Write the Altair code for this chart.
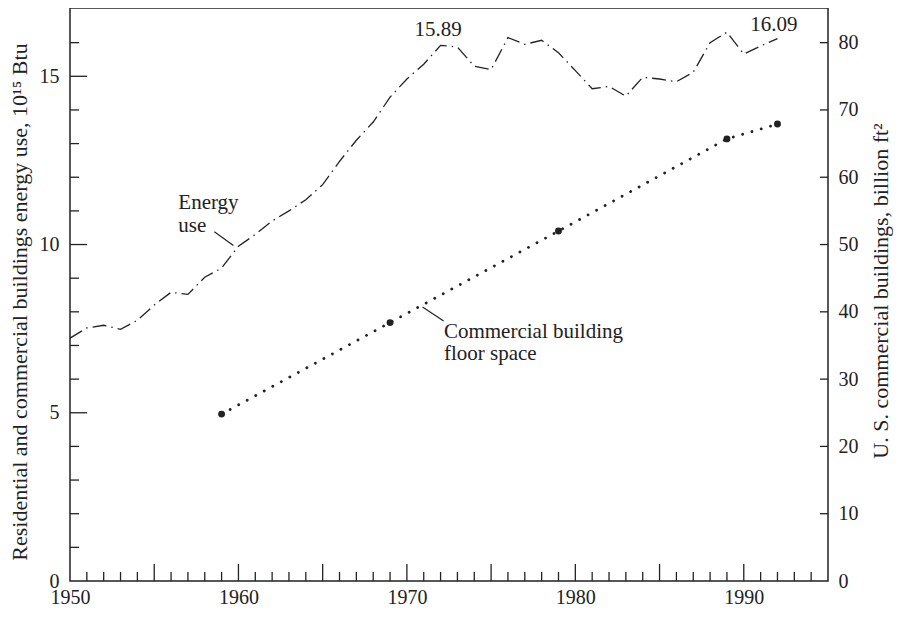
import altair as alt
import pandas as pd

# ---------------- data ----------------
years = list(range(1950, 1993))
energy = [7.22, 7.52, 7.60, 7.48, 7.75, 8.20, 8.58, 8.52, 9.03, 9.30,
          9.95, 10.30, 10.70, 11.00, 11.33, 11.78, 12.47, 13.10, 13.64, 14.38,
          14.92, 15.36, 15.92, 15.87, 15.30, 15.20, 16.15, 15.95, 16.07, 15.70,
          15.17, 14.63, 14.70, 14.41, 14.97, 14.92, 14.84, 15.12, 16.00, 16.31,
          15.66, 15.90, 16.12]

floor_years = [1959, 1969, 1979, 1989, 1992]
floor_space = [24.8, 38.4, 52.0, 65.7, 67.9]

x_labels = [1950, 1960, 1970, 1980, 1990]
x_major_ticks = [1955, 1960, 1965, 1970, 1975, 1980, 1985, 1990]
x_minor_ticks = [y for y in range(1951, 1995) if y % 5 != 0]
left_labels = [0, 5, 10, 15]
left_major_ticks = [5, 10, 15]
left_minor_ticks = [v for v in range(1, 17) if v % 5 != 0]
right_labels = [0, 10, 20, 30, 40, 50, 60, 70, 80]
right_ticks = [10, 20, 30, 40, 50, 60, 70, 80]

label_texts = ["Energy", "use", "Commercial building", "floor space"]
label_years = [1956.43, 1956.43, 1972.2, 1972.2]
label_values = [11.24, 10.56, 7.41, 6.76]

peak_texts = ["15.89", "16.09"]
peak_years = [1971.85, 1991.79]
peak_values = [16.39, 16.51]

leader_x = [1958.57, 1970.93]
leader_y = [10.38, 8.14]
leader_x2 = [1959.70, 1972.18]
leader_y2 = [9.97, 7.73]

left_title = "Residential and commercial buildings energy use, 10\u00b9\u2075 Btu"
right_title = "U. S. commercial buildings, billion ft\u00b2"

# ---------------- style ----------------
W, H = 758, 573
FONT = "Liberation Serif"
INK = "#222222"
FS_TICK = 20
FS_NOTE = 21
FS_TITLE = 22

xs = alt.Scale(domain=[1950, 1995], nice=False, zero=False)
ys_left = alt.Scale(domain=[0, 17.03], nice=False)
ys_right = alt.Scale(domain=[0, 85.15], nice=False)

axis_common = dict(tickSize=0, domain=False, grid=False, title=None,
                   labelFont=FONT, labelFontSize=FS_TICK, labelColor=INK,
                   labelFlush=False, labelOverlap=False)

X_AXIS = alt.Axis(values=x_labels, format="d", labelPadding=22, labelBaseline="alphabetic",
                  orient="bottom", **axis_common)
L_AXIS = alt.Axis(values=left_labels, format="d", labelPadding=11, orient="left", **axis_common)
R_AXIS = alt.Axis(values=right_labels, format="d", labelPadding=10, orient="right", **axis_common)


def X(field):
    return alt.X(field, type="quantitative", scale=xs, axis=X_AXIS)


def YL(field):
    return alt.Y(field, type="quantitative", scale=ys_left, axis=L_AXIS)


def YR(field):
    return alt.Y(field, type="quantitative", scale=ys_right, axis=R_AXIS)


energy_df = pd.DataFrame({"year": years, "energy": energy})
floor_df = pd.DataFrame({"year": floor_years, "space": floor_space})

energy_line = alt.Chart(energy_df).mark_line(
    strokeDash=[14, 5, 1.5, 5], strokeWidth=1.3, color=INK
).encode(x=X("year"), y=YL("energy"))


def xtick_layer(vals, length):
    return alt.Chart(pd.DataFrame({"t": vals})).mark_rule(color=INK, strokeWidth=1.3).encode(
        x=X("t"), y=alt.value(H), y2=alt.value(H - length))


def ltick_layer(vals, length):
    return alt.Chart(pd.DataFrame({"t": vals})).mark_rule(color=INK, strokeWidth=1.3).encode(
        y=YL("t"), x=alt.value(0), x2=alt.value(length))


labels = alt.Chart(pd.DataFrame({"t": label_texts, "year": label_years, "v": label_values})).mark_text(
    font=FONT, fontSize=FS_NOTE, color=INK, align="left", baseline="middle"
).encode(x=X("year"), y=YL("v"), text="t:N")

peaks = alt.Chart(pd.DataFrame({"t": peak_texts, "year": peak_years, "v": peak_values})).mark_text(
    font=FONT, fontSize=FS_NOTE, color=INK, align="center", baseline="middle"
).encode(x=X("year"), y=YL("v"), text="t:N")

leaders = alt.Chart(pd.DataFrame({"x": leader_x, "y": leader_y, "x2": leader_x2, "y2": leader_y2})).mark_rule(
    color=INK, strokeWidth=1.2
).encode(x=X("x"), y=YL("y"), x2="x2:Q", y2="y2:Q")

ltitle = alt.Chart(pd.DataFrame({"t": [left_title]})).mark_text(
    font=FONT, fontSize=FS_TITLE, color=INK, angle=270, align="center", baseline="middle"
).encode(text="t:N", x=alt.value(-50), y=alt.value(294))

rtitle = alt.Chart(pd.DataFrame({"t": [right_title]})).mark_text(
    font=FONT, fontSize=FS_TITLE, color=INK, angle=270, align="center", baseline="middle"
).encode(text="t:N", x=alt.value(W + 53), y=alt.value(283))

left_group = alt.layer(
    energy_line,
    xtick_layer(x_major_ticks, 17), xtick_layer(x_minor_ticks, 9),
    ltick_layer(left_major_ticks, 17), ltick_layer(left_minor_ticks, 9),
    leaders, labels, peaks, ltitle, rtitle,
)

floor_line = alt.Chart(floor_df).mark_line(
    strokeDash=[0.1, 9.6], strokeCap="round", strokeWidth=2.8, color=INK
).encode(x=X("year"), y=YR("space"))

floor_pts = alt.Chart(floor_df).mark_circle(size=48, opacity=1, color=INK).encode(
    x=X("year"), y=YR("space"))

rticks = alt.Chart(pd.DataFrame({"t": right_ticks})).mark_rule(color=INK, strokeWidth=1.3).encode(
    y=YR("t"), x=alt.value(W - 8), x2=alt.value(W))

right_group = alt.layer(floor_line, floor_pts, rticks)

chart = alt.layer(left_group, right_group).resolve_scale(y="independent").properties(
    width=W, height=H,
    padding={"left": 62, "top": 0, "right": 65, "bottom": 23},
    autosize=alt.AutoSizeParams(type="none"),
    background="white",
).configure_view(stroke=INK, strokeWidth=1.5)

chart.save("out.html", embed_options={"renderer": "svg", "actions": False})
